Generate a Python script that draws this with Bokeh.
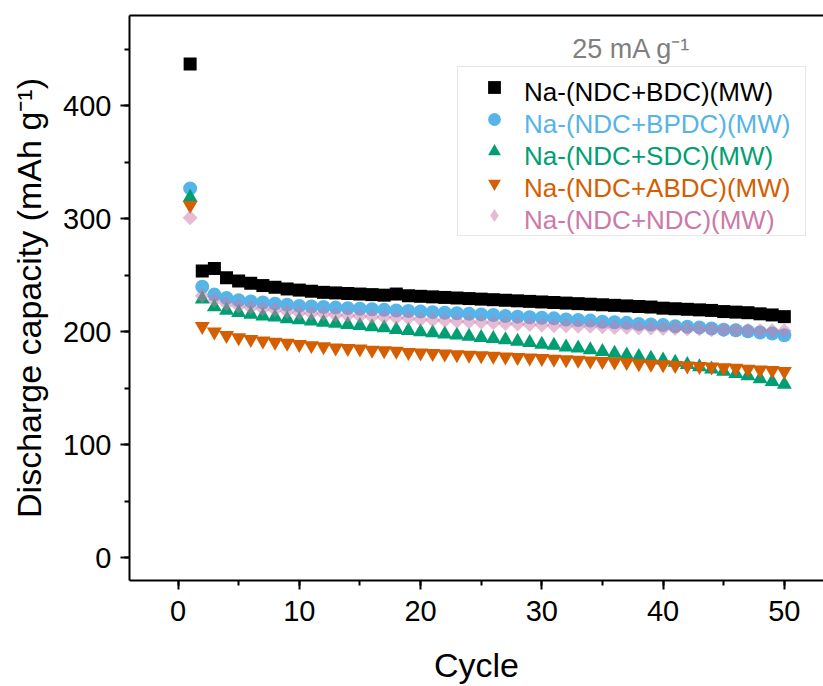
import math
from bokeh.plotting import figure
from bokeh.models import (ColumnDataSource, Legend, LegendItem, LinearAxis,
                          SingleIntervalTicker, FixedTicker, Range1d, Label)
from bokeh.embed import file_html
from bokeh.resources import INLINE

# ---------------- data ----------------
cycles = list(range(1, 51))

bdc = [437, 254, 256, 248, 245, 243, 241, 239.5, 238, 237,
       236, 235, 234.5, 234, 233.5, 233, 232.5, 233.5, 232, 231.5,
       231, 230.5, 230, 229.5, 229, 228.5, 228, 227.5, 227, 226.5,
       226, 225.5, 225, 224.5, 224, 223.5, 223, 222.5, 222, 221,
       220.5, 220, 219.5, 219, 218, 217.5, 217, 216, 215, 213.5]

bpdc = [327, 240, 233, 230, 228, 227, 226, 225, 224, 223,
        222.5, 222, 221.5, 221, 220.5, 220, 219.5, 219, 218.5, 218,
        217.5, 217, 216.5, 216, 215.5, 215, 214, 213.5, 213, 212.5,
        212, 211, 210.5, 210, 209, 208.5, 208, 207, 206.5, 206,
        205, 204.5, 204, 203, 202, 201.5, 200.5, 199.5, 198.5, 197]

sdc = [319, 229, 222, 219, 217, 215.5, 214, 213, 211.5, 210.5,
       209.5, 208.5, 207.5, 206.5, 205.5, 204.5, 203.5, 202, 201, 200,
       199, 198, 197, 196, 195, 194, 193, 191.5, 190.5, 189,
       188, 186.5, 185.5, 184, 182.5, 181, 179.5, 178, 176.5, 175,
       173, 171, 169, 167, 165, 163, 161, 158.5, 156, 153.5]

abdc = [312, 205, 200, 197, 195, 193.5, 192, 191, 190, 189,
        188, 187, 186, 185.5, 185, 184, 183.5, 183, 182, 181.5,
        181, 180.5, 180, 179.5, 179, 178.5, 178, 177.5, 177, 176.5,
        176, 175.5, 175, 174.5, 174, 173.5, 173, 172, 171.5, 171,
        170.5, 170, 169.5, 169, 168.5, 168, 167, 166.5, 166, 165]

ndc = [301, 232, 228, 225, 223, 221.5, 220.5, 219.5, 218, 217,
       216.5, 216, 215, 214.5, 214, 213.5, 213, 212.5, 212, 211,
       210.5, 210, 209.5, 209, 208.5, 208, 207.5, 207, 206.5, 206,
       205.5, 205.5, 205, 205, 204.5, 204, 204, 203.5, 203.5, 203,
       203, 202.5, 202.5, 202, 202, 201.5, 201.5, 201, 201, 201]

names = ["Na-(NDC+BDC)(MW)", "Na-(NDC+BPDC)(MW)", "Na-(NDC+SDC)(MW)",
         "Na-(NDC+ABDC)(MW)", "Na-(NDC+NDC)(MW)"]
values = [bdc, bpdc, sdc, abdc, ndc]
colors = ["#000000", "#56B4E9", "#009E73", "#D55E00", "#CC79A7"]
text_colors = ["#000000", "#56B4E9", "#009E73", "#D55E00", "#CC79A7"]
markers = ["square", "circle", "triangle", "inverted_triangle", "square"]
legend_markers = ["square", "circle", "triangle", "inverted_triangle", "diamond"]
sizes = [13, 14, 15, 15, 10.6]
angles = [0, 0, 0, 0, math.pi / 4]
alphas = [1.0, 1.0, 1.0, 1.0, 0.5]

x_ticks_interval = 10
y_ticks_interval = 100

FONT = "Liberation Sans"

# ---------------- figure ----------------
p = figure(width=823, height=686, output_backend="svg", toolbar_location=None,
           x_range=Range1d(-4, 53.23), y_range=Range1d(-20, 480),
           min_border_left=129, min_border_right=0, min_border_top=15,
           min_border_bottom=105)
p.xgrid.visible = False
p.ygrid.visible = False
p.outline_line_color = None
p.background_fill_color = "white"
p.border_fill_color = "white"
# range used only for legend proxies (kept outside the visible frame)
p.extra_x_ranges = {"legend_proxy": Range1d(1000, 1001)}

sources = []
renderers = []
for v, c, m, s, a, al in zip(values, colors, markers, sizes, angles, alphas):
    src = ColumnDataSource(dict(x=cycles, y=v))
    sources.append(src)
    r = p.scatter(x="x", y="y", source=src, marker=m, size=s, angle=a,
                  fill_color=c, fill_alpha=al, line_color=None)
    renderers.append(r)

# axes
p.xaxis.ticker = SingleIntervalTicker(interval=x_ticks_interval, num_minor_ticks=2)
p.yaxis.ticker = SingleIntervalTicker(interval=y_ticks_interval, num_minor_ticks=2)
p.xaxis.axis_label = "Cycle"
p.yaxis.axis_label = "Discharge capacity (mAh g⁻¹)"
for ax in [p.xaxis[0], p.yaxis[0]]:
    ax.axis_line_width = 2
    ax.axis_line_color = "black"
    ax.major_tick_line_width = 2
    ax.minor_tick_line_width = 2
    ax.major_tick_line_color = "black"
    ax.minor_tick_line_color = "black"
    ax.major_tick_out = 9
    ax.major_tick_in = 0
    ax.minor_tick_out = 5
    ax.minor_tick_in = 0
    ax.major_label_text_font = FONT
    ax.major_label_text_font_size = "29px"
    ax.major_label_text_color = "black"
    ax.axis_label_text_font = FONT
    ax.axis_label_text_font_size = "34px"
    ax.axis_label_text_font_style = "normal"
    ax.axis_label_text_color = "black"
p.xaxis.major_label_standoff = 11
p.xaxis.axis_label_standoff = 22
p.yaxis.major_label_standoff = 9
p.yaxis.axis_label_standoff = 12

top = LinearAxis(ticker=FixedTicker(ticks=[]), axis_line_width=2,
                 axis_line_color="black", major_tick_out=0, major_tick_in=0,
                 minor_tick_out=0, minor_tick_in=0, major_label_standoff=0,
                 major_label_text_font_size="0px")
p.add_layout(top, "above")

# current density label
p.add_layout(Label(x=37.4, y=450.7, text="25 mA g⁻¹", text_align="center",
                   text_baseline="middle", text_color="#7f7f7f",
                   text_font=FONT, text_font_size="27px"))

# legend: box + glyphs (blank labels)
LX, LY = 328, 344
ROW = 32
common = dict(padding=4, spacing=0, glyph_width=64, glyph_height=ROW,
              label_height=ROW, label_standoff=3, label_width=272,
              label_text_font=FONT, label_text_font_size="26px",
              margin=0)
legend_glyph_renderers = []
for i, (lm, c, al) in enumerate(zip(legend_markers, colors, alphas)):
    if lm == markers[i]:
        legend_glyph_renderers.append(renderers[i])
    else:
        d = p.scatter(x="x", y="y", source=sources[i], marker=lm, size=sizes[i],
                      fill_color=c, fill_alpha=al, line_color=None,
                      x_range_name="legend_proxy")
        legend_glyph_renderers.append(d)

master = Legend(items=[LegendItem(label=" ", renderers=[r]) for r in legend_glyph_renderers],
                location=(LX, LY), border_line_color="#d0d0d0", border_line_width=1.5,
                background_fill_color="white", background_fill_alpha=1.0, **common)
p.add_layout(master)

# coloured label overlays (one per series)
for i, (n, tc, m) in enumerate(zip(names, text_colors, markers)):
    dummy = p.scatter(x="x", y="y", source=sources[i], marker=m, size=1,
                      fill_alpha=0, line_alpha=0, x_range_name="legend_proxy")
    leg = Legend(items=[LegendItem(label=n, renderers=[dummy])],
                 location=(LX, LY + (4 - i) * ROW), border_line_color=None,
                 background_fill_alpha=0.0, label_text_color=tc, **common)
    p.add_layout(leg)

open("out.html", "w").write(file_html(p, INLINE))
